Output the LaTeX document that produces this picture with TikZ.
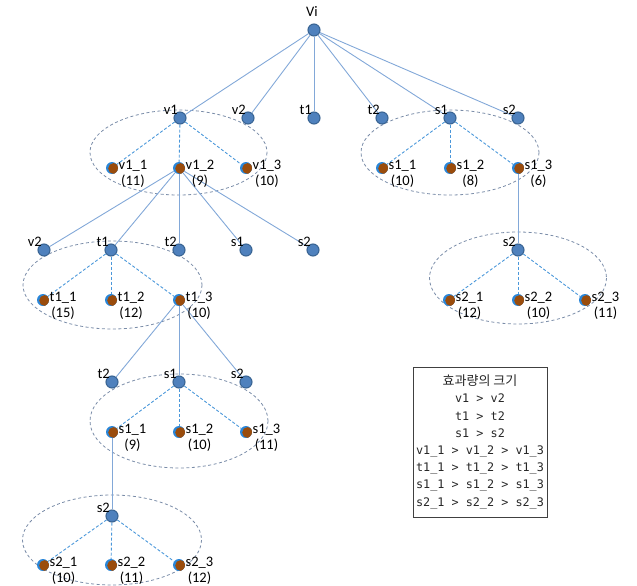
\documentclass[tikz,border=0pt]{standalone}
\usepackage{fontspec}
\setmainfont{Carlito}
\newfontfamily\krfont{Noto Sans CJK KR}
\newfontfamily\lgfont{DejaVu Sans Mono}
\usetikzlibrary{backgrounds}

\definecolor{nodeblue}{HTML}{4F81BD}
\definecolor{nodeedge}{HTML}{3A6594}
\definecolor{kidblue}{HTML}{2A86D8}
\definecolor{kidbrown}{HTML}{9A4C0C}
\definecolor{linkblue}{HTML}{82A8D8}
\definecolor{dashblue}{HTML}{4A97DA}
\definecolor{ringgray}{HTML}{7A8CA8}

% name over value, first baseline on the node's baseline
\newcommand\kv[2]{\begin{tabular}[t]{@{}c@{}}#1\\#2\end{tabular}}

\tikzset{
  par/.style={circle, inner sep=0pt, minimum size=12pt, fill=nodeblue,
    draw=nodeedge, line width=1.1pt},
  kid/.style={circle, inner sep=0pt, minimum size=12pt, fill=kidblue,
    path picture={\fill[kidbrown] ([xshift=1.6pt,yshift=-0.5pt]path picture bounding box.center) circle (5.4pt);}},
  plab/.style={anchor=base east, inner sep=0pt, xshift=-2pt, yshift=4pt,
    font=\fontsize{14.5}{16}\selectfont},
  klab/.style={anchor=base west, inner sep=0pt, xshift=6.5pt, yshift=-1.5pt,
    font=\fontsize{14.5}{16}\selectfont},
  link/.style={linkblue, line width=0.9pt},
  sublink/.style={dashblue, line width=0.9pt, dash pattern=on 3pt off 2pt},
  grp/.style={ringgray, line width=0.8pt, dash pattern=on 3pt off 2.5pt},
}

% a tree node with its name written up and to the left
\newcommand\pnode[4]{%
  \node[par] (#1) at (#2,#3) {};
  \node[plab] (#1-l) at (#1) {#4};}
% a leaf node with its name and value to the right
\newcommand\knode[5]{%
  \node[kid] (#1) at (#2,#3) {};
  \node[klab] (#1-l) at (#1) {\kv{#4}{#5}};}

\begin{document}
\begin{tikzpicture}[x=1pt, y=-1pt]
\useasboundingbox (0,0) rectangle (637,586);

% root and first level
\node[par] (vi) at (314,30) {};
\node[plab, anchor=base, xshift=0pt, yshift=9pt] (vi-l) at (vi) {Vi};
\pnode{v1}{180}{118}{v1}
\pnode{v2}{248}{118}{v2}
\pnode{t1}{314}{118}{t1}
\pnode{t2}{382}{118}{t2}
\pnode{s1}{450}{118}{s1}
\pnode{s2}{518}{118}{s2}

% v1 group
\knode{a1}{112}{168}{v1\_1}{(11)}
\knode{a2}{179}{168}{v1\_2}{(9)}
\knode{a3}{246}{168}{v1\_3}{(10)}

% s1 group (right)
\knode{r1}{382}{168}{s1\_1}{(10)}
\knode{r2}{450}{168}{s1\_2}{(8)}
\knode{r3}{518}{168}{s1\_3}{(6)}

\pnode{es2}{518}{250}{s2}
\knode{f1}{449}{300}{s2\_1}{(12)}
\knode{f2}{518}{300}{s2\_2}{(10)}
\knode{f3}{585}{300}{s2\_3}{(11)}

% second level under v1_2
\pnode{bv2}{44}{250}{v2}
\pnode{bt1}{111}{250}{t1}
\pnode{bt2}{179}{250}{t2}
\pnode{bs1}{246}{250}{s1}
\pnode{bs2}{313}{250}{s2}

\knode{b1}{43}{300}{t1\_1}{(15)}
\knode{b2}{111}{300}{t1\_2}{(12)}
\knode{b3}{179}{300}{t1\_3}{(10)}

% third level under t1_3
\pnode{ct2}{112}{382}{t2}
\pnode{cs1}{179}{382}{s1}
\pnode{cs2}{246}{382}{s2}

\knode{c1}{112}{432}{s1\_1}{(9)}
\knode{c2}{179}{432}{s1\_2}{(10)}
\knode{c3}{246}{432}{s1\_3}{(11)}

% fourth level under s1_1
\pnode{ds2}{112}{516}{s2}
\knode{d1}{43}{565}{s2\_1}{(10)}
\knode{d2}{111}{565}{s2\_2}{(11)}
\knode{d3}{179}{565}{s2\_3}{(12)}

\begin{scope}[on background layer]
  % grouping rings
  \draw[grp] (178.5,152.5) ellipse [x radius=88.5, y radius=42.5];
  \draw[grp] (450,152.5) ellipse [x radius=89, y radius=42.5];
  \draw[grp] (518,278) ellipse [x radius=88.5, y radius=46];
  \draw[grp] (112.5,285) ellipse [x radius=89.5, y radius=44];
  \draw[grp] (179,421) ellipse [x radius=89, y radius=47];
  \draw[grp] (112,540) ellipse [x radius=89.5, y radius=45];

  % tree links
  \foreach \n in {v1,v2,t1,t2,s1,s2} \draw[link] (vi) -- (\n);
  \foreach \n in {bv2,bt1,bt2,bs1,bs2} \draw[link] (a2) -- (\n);
  \foreach \n in {ct2,cs1,cs2} \draw[link] (b3) -- (\n);
  \draw[link] (c1) -- (ds2);
  \draw[link] (r3) -- (es2);

  % links inside each group
  \foreach \n in {a1,a2,a3} \draw[sublink] (v1) -- (\n);
  \foreach \n in {r1,r2,r3} \draw[sublink] (s1) -- (\n);
  \foreach \n in {f1,f2,f3} \draw[sublink] (es2) -- (\n);
  \foreach \n in {b1,b2,b3} \draw[sublink] (bt1) -- (\n);
  \foreach \n in {c1,c2,c3} \draw[sublink] (cs1) -- (\n);
  \foreach \n in {d1,d2,d3} \draw[sublink] (ds2) -- (\n);
\end{scope}

% legend
\node[draw=black!75, line width=0.7pt, minimum width=134pt, minimum height=150pt,
      inner sep=0pt, align=center, text=black!85,
      font=\lgfont\fontsize{11.8}{17.2}\selectfont] (legend) at (480,442)
  {{\krfont\fontsize{13}{17.2}\selectfont 효과량의 크기}\\
   v1 > v2\\
   t1 > t2\\
   s1 > s2\\
   v1\_1 > v1\_2 > v1\_3\\
   t1\_1 > t1\_2 > t1\_3\\
   s1\_1 > s1\_2 > s1\_3\\
   s2\_1 > s2\_2 > s2\_3};
\end{tikzpicture}
\end{document}
